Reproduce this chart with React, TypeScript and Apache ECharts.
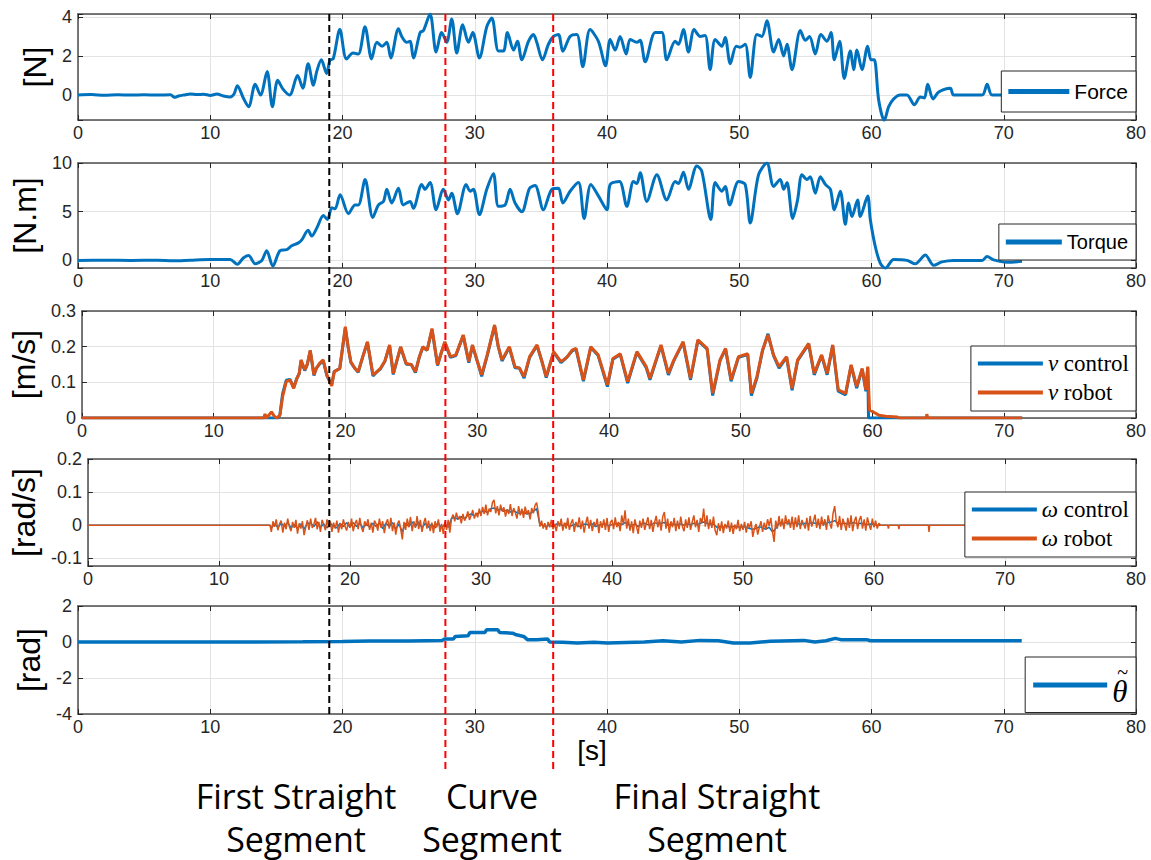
import React, { useEffect, useRef } from 'react';
import * as echarts from 'echarts';

// ---------------- DATA ----------------
const xTicks = [0, 10, 20, 30, 40, 50, 60, 70, 80];
const sectionMarks = [19.0, 27.78, 35.93]; // first = black, others = red

const forceTicks = [0, 2, 4];
const torqueTicks = [0, 5, 10];
const nuTicks = [0, 0.1, 0.2, 0.3];
const omegaTicks = [-0.1, 0, 0.1, 0.2];
const thetaTicks = [-4, -2, 0, 2];

const forceRange = [-1.28, 4.15];
const torqueRange = [-0.78, 10];
const nuRange = [0, 0.3];
const omegaRange = [-0.123, 0.2];
const thetaRange = [-4, 2];

const forceData = [
  [0, 0], [1, 0.02], [2, -0.01], [3, 0.01], [4, 0], [5, 0.01], [6, 0], [7, 0.01], [7.3, -0.12], [7.6, -0.05],
  [8, 0], [8.5, 0.05], [9, 0.02], [9.5, 0.04], [10, -0.02], [10.5, 0.05], [11, -0.05], [11.5, -0.1], [11.8, 0.05],
  [12.05, 0.48], [12.5, -0.15], [12.9, -0.6], [13.4, 0.55], [13.8, 0], [14.3, 1.2], [14.7, -0.6], [15.1, 0.75],
  [15.5, 0.3], [16.0, 0.0], [16.6, 1.0], [17.0, 0.35], [17.4, 1.6], [17.8, 0.5], [18.05, 1.2], [18.4, 1.8],
  [18.8, 1.1], [19.06, 1.8], [19.3, 1.85], [19.8, 3.35], [20.3, 1.85], [20.8, 2.15], [21.2, 2.1], [21.7, 3.5],
  [22.2, 1.85], [22.6, 2.7], [23.0, 2.5], [23.35, 2.7], [23.65, 1.9], [24.23, 3.4], [24.48, 3.0], [24.86, 2.7],
  [25.11, 2.75], [25.36, 1.9], [25.87, 3.2], [26.12, 3.3], [26.62, 4.15], [27.08, 2.2], [27.5, 3.2], [27.88, 2.7],
  [28.26, 3.9], [28.64, 2.15], [29.09, 3.6], [29.52, 2.7], [29.85, 3.2], [30.35, 1.9], [30.91, 3.5], [31.29, 3.95],
  [31.79, 2.25], [32.17, 2.25], [32.47, 3.2], [32.93, 2.3], [33.23, 2.75], [33.56, 1.8], [34.06, 2.75], [34.44, 3.1],
  [34.69, 2.7], [35.12, 1.8], [35.57, 2.6], [35.95, 3.0], [36.33, 3.1], [36.66, 2.24], [37.21, 3.0], [37.72, 3.1],
  [38.17, 1.45], [38.72, 3.35], [39.35, 2.75], [39.89, 1.5], [40.24, 2.85], [40.62, 2.3], [40.99, 3.0], [41.45, 2.1],
  [41.75, 2.85], [42.26, 2.7], [42.51, 2.8], [42.89, 1.7], [43.64, 3.2], [44.15, 3.2], [44.52, 1.8], [45.15, 2.75],
  [45.41, 2.6], [45.78, 3.35], [46.16, 2.2], [46.59, 3.35], [47.05, 3.0], [47.42, 3.05], [47.8, 1.3], [48.18, 2.85],
  [48.68, 2.5], [48.94, 2.95], [49.32, 1.6], [49.77, 2.5], [50.07, 2.45], [50.45, 2.6], [50.83, 0.9], [51.33, 3.1],
  [51.71, 3.0], [52.09, 3.8], [52.6, 2.2], [52.98, 2.85], [53.36, 2.0], [53.61, 2.6], [53.99, 1.3], [54.62, 3.3],
  [55.0, 2.8], [55.32, 3.0], [55.75, 2.1], [56.18, 3.1], [56.63, 2.75], [56.94, 3.2], [57.19, 1.8], [57.59, 2.75],
  [57.94, 0.85], [58.4, 2.25], [58.65, 1.3], [58.9, 2.3], [59.28, 1.3], [59.71, 2.5], [59.96, 1.8], [60.21, 1.8],
  [60.54, -0.25], [60.97, -1.3], [61.3, -0.6], [61.68, -0.2], [62.18, 0], [62.68, 0], [63.24, -0.5], [63.69, -0.1],
  [64.0, -0.15], [64.25, 0.55], [64.65, -0.2], [65.08, 0.15], [65.96, 0.35], [66.21, 0], [68.36, 0], [68.74, 0.55],
  [69.11, 0], [70, 0], [71.36, 0],
];

const torqueData = [
  [0, 0], [2, 0.02], [4, 0], [6, 0.01], [7.2, -0.04], [8.5, 0.02], [10, 0.08], [11.5, 0.08], [12.05, -0.4],
  [12.5, 0.25], [12.9, 0.5], [13.4, -0.35], [13.9, 0], [14.27, 1.0], [14.73, -0.6], [15.28, 1.0], [15.78, 1.1],
  [16.16, 1.5], [16.67, 1.8], [16.92, 2.1], [17.4, 3.1], [17.67, 2.5], [18.05, 3.3], [18.56, 4.6], [18.86, 4.2],
  [19.19, 5.4], [19.44, 5.3], [19.82, 6.75], [20.45, 4.8], [20.95, 5.7], [21.2, 5.7], [21.71, 8.3], [22.29, 4.4],
  [22.72, 5.7], [23.1, 6.06], [23.35, 7.3], [23.72, 5.9], [24.23, 7.4], [24.6, 5.7], [25.11, 6.06], [25.36, 5.35],
  [25.99, 7.8], [26.24, 7.3], [26.62, 8.0], [27.08, 5.2], [27.63, 7.3], [28.01, 6.2], [28.26, 6.9], [28.69, 4.8],
  [29.35, 7.8], [29.65, 7.1], [29.9, 7.3], [30.35, 4.7], [30.91, 7.3], [31.41, 8.9], [31.79, 5.55], [32.3, 5.7],
  [32.67, 7.3], [33.05, 5.9], [33.56, 5.0], [34.14, 7.4], [34.56, 7.7], [35.19, 5.2], [35.83, 7.3], [36.33, 7.4],
  [36.66, 5.9], [37.21, 7.1], [37.84, 8.0], [38.27, 4.3], [38.78, 7.8], [39.36, 6.6], [39.99, 5.2], [40.24, 7.8],
  [40.94, 8.1], [41.5, 5.55], [42.0, 8.1], [42.26, 7.9], [42.51, 9.0], [43.01, 6.06], [43.77, 8.8], [44.52, 6.2],
  [45.15, 8.1], [45.41, 7.9], [45.78, 9.05], [46.16, 7.3], [46.79, 9.7], [47.17, 9.15], [47.85, 4.2], [48.18, 8.0],
  [48.68, 7.1], [48.94, 7.6], [49.27, 5.7], [49.95, 8.1], [50.45, 7.8], [50.83, 3.85], [51.46, 8.8], [52.09, 10.0],
  [52.6, 7.6], [53.1, 8.3], [53.36, 7.3], [53.61, 8.0], [54.04, 4.3], [54.41, 6.2], [54.74, 8.8], [55.12, 8.3],
  [55.37, 8.6], [55.75, 6.9], [56.13, 8.6], [56.51, 7.8], [56.89, 7.3], [57.19, 5.2], [57.64, 7.1], [58.02, 3.7],
  [58.27, 5.9], [58.52, 4.5], [58.95, 6.2], [59.15, 4.5], [59.71, 6.6], [59.91, 4.2], [60.29, 1.4], [60.67, -0.3],
  [61.05, -0.8], [61.68, 0.1], [62.68, 0], [63.31, -0.35], [64.07, 0.55], [64.7, -0.5], [65.33, -0.15], [66.21, 0],
  [68.36, 0], [68.74, 0.4], [69.24, 0.05], [70.25, -0.2], [71.38, -0.1],
];

const nuRobot = [
  [0, 0], [13.8, 0], [13.9, 0.011], [14.0, 0], [14.39, 0.017], [14.6, 0.005], [14.81, 0], [15.03, 0.008],
  [15.23, 0.06], [15.51, 0.102], [15.79, 0.107], [16.07, 0.083], [16.3, 0.11], [16.49, 0.125], [16.63, 0.163],
  [16.91, 0.135], [17.1, 0.15], [17.33, 0.19], [17.61, 0.121], [17.8, 0.14], [18.03, 0.153], [18.31, 0.163],
  [18.59, 0.121], [18.95, 0.09], [19.15, 0.13], [19.57, 0.139], [19.99, 0.256], [20.2, 0.2], [20.41, 0.158],
  [20.7, 0.14], [20.97, 0.13], [21.3, 0.17], [21.67, 0.214], [22.09, 0.121], [22.4, 0.13], [22.65, 0.139],
  [23.0, 0.16], [23.35, 0.205], [23.63, 0.125], [23.9, 0.16], [24.19, 0.2], [24.61, 0.153], [25.0, 0.15],
  [25.31, 0.13], [25.6, 0.17], [25.87, 0.2], [26.2, 0.19], [26.57, 0.251], [26.99, 0.149], [27.25, 0.18],
  [27.54, 0.214], [27.97, 0.172], [28.38, 0.177], [28.94, 0.233], [29.36, 0.158], [29.64, 0.205], [30.0, 0.16],
  [30.34, 0.121], [30.76, 0.177], [31.32, 0.261], [31.6, 0.2], [31.88, 0.163], [32.44, 0.2], [32.86, 0.144],
  [33.2, 0.14], [33.56, 0.116], [33.98, 0.172], [34.54, 0.205], [34.9, 0.16], [35.24, 0.116], [35.8, 0.186],
  [36.36, 0.158], [36.8, 0.17], [37.2, 0.19], [37.5, 0.195], [38.06, 0.107], [38.62, 0.2], [39.18, 0.177],
  [39.88, 0.093], [40.3, 0.167], [40.86, 0.18], [41.42, 0.102], [42.12, 0.186], [42.83, 0.144], [43.11, 0.111],
  [43.95, 0.205], [44.51, 0.125], [44.93, 0.163], [45.63, 0.214], [46.19, 0.111], [46.75, 0.219], [47.45, 0.195],
  [47.87, 0.069], [48.43, 0.163], [48.85, 0.195], [49.27, 0.107], [49.83, 0.172], [50.53, 0.18], [50.81, 0.069],
  [51.23, 0.116], [51.65, 0.19], [52.07, 0.233], [52.49, 0.177], [52.91, 0.144], [53.48, 0.172], [53.9, 0.083],
  [54.32, 0.163], [55.16, 0.209], [55.58, 0.125], [56.14, 0.177], [56.56, 0.125], [56.98, 0.205], [57.4, 0.079],
  [57.96, 0.069], [58.38, 0.149], [58.8, 0.088], [59.22, 0.139], [59.5, 0.079], [59.64, 0.144], [59.78, 0.022],
  [60.06, 0.017], [60.48, 0.008], [61.0, 0.005], [61.88, 0.003], [62.0, 0], [64.1, 0], [64.12, 0.011], [64.2, 0],
  [71.36, 0],
];

const nuControl = [
  [0, 0], [14.9, 0], [15.03, 0.01], [15.23, 0.068], [15.51, 0.106], [15.79, 0.108], [16.07, 0.085], [16.3, 0.11],
  [16.49, 0.124], [16.63, 0.16], [16.91, 0.133], [17.1, 0.15], [17.33, 0.188], [17.61, 0.119], [17.8, 0.14],
  [18.03, 0.151], [18.31, 0.161], [18.59, 0.119], [18.95, 0.092], [19.15, 0.13], [19.57, 0.139], [19.99, 0.252],
  [20.2, 0.2], [20.41, 0.156], [20.7, 0.14], [20.97, 0.128], [21.3, 0.17], [21.67, 0.212], [22.09, 0.118],
  [22.4, 0.13], [22.65, 0.137], [23.0, 0.16], [23.35, 0.203], [23.63, 0.122], [23.9, 0.16], [24.19, 0.198],
  [24.61, 0.151], [25.0, 0.15], [25.31, 0.127], [25.6, 0.17], [25.87, 0.198], [26.2, 0.19], [26.57, 0.248],
  [26.99, 0.147], [27.25, 0.18], [27.54, 0.212], [27.97, 0.17], [28.38, 0.175], [28.94, 0.231], [29.36, 0.155],
  [29.64, 0.203], [30.0, 0.16], [30.34, 0.117], [30.76, 0.175], [31.32, 0.258], [31.6, 0.2], [31.88, 0.16],
  [32.44, 0.198], [32.86, 0.141], [33.2, 0.14], [33.56, 0.112], [33.98, 0.17], [34.54, 0.203], [34.9, 0.16],
  [35.24, 0.113], [35.8, 0.184], [36.36, 0.155], [36.8, 0.17], [37.2, 0.188], [37.5, 0.193], [38.06, 0.103],
  [38.62, 0.198], [39.18, 0.175], [39.88, 0.088], [40.3, 0.165], [40.86, 0.178], [41.42, 0.098], [42.12, 0.184],
  [42.83, 0.141], [43.11, 0.107], [43.95, 0.203], [44.51, 0.121], [44.93, 0.161], [45.63, 0.212], [46.19, 0.107],
  [46.75, 0.217], [47.45, 0.193], [47.87, 0.063], [48.43, 0.161], [48.85, 0.193], [49.27, 0.103], [49.83, 0.17],
  [50.53, 0.178], [50.81, 0.063], [51.23, 0.112], [51.65, 0.188], [52.07, 0.236], [52.49, 0.175], [52.91, 0.14],
  [53.48, 0.17], [53.9, 0.078], [54.32, 0.161], [55.16, 0.207], [55.58, 0.121], [56.14, 0.175], [56.56, 0.121],
  [56.98, 0.203], [57.4, 0.075], [57.96, 0.065], [58.38, 0.147], [58.8, 0.084], [59.22, 0.137], [59.5, 0.075],
  [59.64, 0.14], [59.7, 0], [71.36, 0],
];

// ω robot: sampled every 0.125 s from 14.0 s to 60.5 s
const omegaStart = 13.9;
const omegaEnd = 71.36;
const omegaT0 = 14.0;
const omegaRobotStep = 0.125;
const omegaRobotVals = [
  -0.02, 0.012, -0.005, 0.018, -0.015, 0.004, 0.014, -0.022,
  0.008, -0.012, 0.02, -0.004, -0.018, 0.01, -0.008, 0.016,
  -0.025, 0.006, -0.01, 0.012, -0.03, -0.006, 0.015, -0.014,
  0.02, -0.008, 0.004, 0.022, -0.012, 0.01, -0.02, 0.016,
  0.002, -0.015, 0.018, -0.006, 0.012, -0.02, 0.008, -0.01,
  0.014, -0.022, 0.006, -0.012, 0.018, -0.004, -0.016, 0.01,
  -0.008, 0.02, -0.018, 0.004, 0.016, -0.012, 0.022, -0.006,
  -0.02, 0.012, -0.002, 0.018, -0.014, 0.008, -0.022, 0.014,
  0.004, -0.016, 0.02, -0.008, 0.012, -0.024, 0.006, 0.018,
  -0.01, 0.022, -0.018, 0.008, -0.028, 0.004, 0.014, -0.012,
  -0.043, 0.01, -0.014, 0.02, -0.006, 0.025, -0.018, 0.012,
  -0.008, 0.028, -0.012, 0.016, -0.02, 0.006, 0.022, -0.01,
  0.014, -0.018, 0.008, -0.024, 0.012, -0.006, 0.018, -0.02,
  0.004, -0.026, 0.01, -0.014, 0.016, -0.022, 0.02, 0.032,
  0.012, 0.038, 0.018, 0.028, 0.006, 0.034, 0.014, 0.024,
  0.042, 0.016, 0.03, 0.046, 0.02, 0.038, 0.024, 0.05,
  0.028, 0.055, 0.034, 0.062, 0.03, 0.05, 0.04, 0.068,
  0.077, 0.036, 0.058, 0.03, 0.062, 0.042, 0.054, 0.026,
  0.048, 0.034, 0.064, 0.028, 0.052, 0.038, 0.02, 0.058,
  0.03, 0.05, 0.022, 0.056, 0.034, 0.046, 0.018, 0.052,
  0.036, 0.06, 0.068, 0.04, -0.004, 0.014, -0.01, 0.006,
  -0.014, 0.01, -0.006, 0.016, -0.012, 0.004, -0.018, 0.012,
  -0.004, 0.02, -0.016, 0.008, -0.01, 0.022, -0.014, 0.006,
  0.018, -0.02, 0.01, -0.006, 0.024, -0.012, 0.014, -0.022,
  0.006, 0.026, -0.01, 0.016, -0.018, 0.01, -0.004, 0.02,
  -0.024, 0.012, -0.008, 0.018, -0.014, 0.022, -0.02, 0.008,
  0.016, -0.012, 0.024, -0.006, 0.01, -0.018, 0.03, 0.002,
  0.045, -0.01, 0.02, -0.016, 0.012, -0.024, 0.018, -0.004,
  -0.026, 0.014, -0.008, 0.02, -0.014, 0.006, 0.024, -0.012,
  0.016, -0.02, 0.008, 0.028, -0.006, 0.018, -0.016, 0.026,
  0.04, -0.01, 0.02, -0.022, 0.012, -0.006, 0.022, -0.018,
  0.014, -0.012, 0.026, -0.004, -0.018, 0.018, -0.008, 0.024,
  -0.014, 0.01, 0.03, -0.006, 0.016, -0.02, 0.022, 0.008,
  0.05, -0.004, 0.03, -0.012, 0.018, -0.008, 0.026, -0.016,
  -0.03, 0.006, -0.018, 0.012, -0.024, 0.004, -0.01, 0.014,
  -0.02, 0.008, -0.026, 0.002, -0.012, 0.016, -0.018, 0.004,
  -0.014, 0.01, -0.022, 0.006, -0.008, 0.012, -0.035, -0.01,
  0.004, -0.028, -0.006, 0.012, -0.02, 0.008, -0.014, 0.018,
  -0.002, 0.022, -0.018, -0.05, 0.014, -0.01, 0.028, -0.004,
  0.02, -0.012, 0.03, 0.002, 0.018, -0.008, 0.026, -0.014,
  0.024, -0.006, 0.03, -0.012, 0.016, 0.004, -0.01, 0.022,
  -0.016, 0.028, -0.004, 0.012, 0.032, -0.008, 0.02, -0.012,
  0.026, -0.002, 0.018, -0.014, 0.03, 0.006, -0.01, 0.036,
  0.058, 0.012, -0.006, 0.028, -0.014, 0.02, 0.004, -0.016,
  0.022, -0.008, 0.03, -0.018, 0.012, 0.026, -0.012, 0.016,
  0.028, -0.01, 0.018, -0.016, 0.024, 0.002, -0.014, 0.02,
  -0.006, 0.014, -0.01, 0.006, 0.0,
];
const omegaRobotTail = [
  [60.75, 0], [61.05, 0], [61.1, -0.01], [61.15, 0], [61.85, 0], [61.9, -0.012], [61.95, 0],
  [64.15, 0], [64.2, -0.02], [64.25, 0], [71.36, 0],
];

// ω control: sampled every 0.25 s from 14.0 s to 60.5 s
const omegaControlStep = 0.25;
const omegaControlVals = [
  -0.008, 0.004, -0.006, 0.006, -0.004, 0.008, -0.008, 0.002, -0.01, 0.004, -0.012, 0.006,
  0.006, -0.004, 0.01, -0.006, 0.004, -0.008, 0.006, -0.004, -0.008, 0.006, -0.004, 0.008,
  -0.006, 0.008, -0.004, 0.006, -0.008, 0.004, -0.006, 0.006, -0.004, 0.008, -0.01, 0.006,
  -0.004, 0.008, -0.012, 0.004, -0.02, 0.006, -0.004, 0.01, -0.004, 0.01, -0.008, 0.006,
  -0.006, 0.004, -0.008, 0.006, -0.008, 0.004, -0.006, 0.02, 0.024, 0.018, 0.026, 0.02,
  0.03, 0.034, 0.028, 0.036, 0.04, 0.044, 0.038, 0.05, 0.052, 0.046, 0.048, 0.042,
  0.046, 0.04, 0.044, 0.038, 0.036, 0.04, 0.034, 0.036, 0.042, 0.05, 0.002, 0.0,
  -0.004, 0.002, -0.006, 0.004, 0.004, -0.002, 0.006, -0.004, 0.0, 0.004, -0.004, 0.002,
  0.004, 0.0, 0.004, -0.004, 0.0, 0.002, 0.004, -0.002, 0.002, 0.004, 0.006, 0.002,
  0.008, 0.002, -0.002, 0.004, -0.004, 0.004, 0.006, 0.002, 0.0, 0.008, 0.004, 0.006,
  0.008, 0.0, 0.004, 0.002, 0.002, 0.004, 0.0, 0.004, 0.002, 0.006, 0.002, 0.006,
  0.01, 0.006, 0.002, 0.004, -0.006, -0.004, -0.006, -0.002, -0.006, -0.004, -0.004, -0.006,
  -0.004, -0.006, -0.01, -0.012, -0.01, -0.004, -0.008, -0.012, -0.006, -0.02, -0.01, 0.006,
  0.004, 0.008, 0.004, 0.006, 0.006, 0.004, 0.004, 0.006, 0.004, 0.008, 0.006, 0.004,
  0.006, 0.004, 0.008, 0.01, 0.014, 0.006, 0.004, 0.006, 0.004, 0.006, 0.008, 0.004,
  0.006, 0.004, 0.002, 0.004, 0.002, 0.0, 0.0,
];

const thetaData = [
  [0, 0], [10, 0], [17, 0.01], [20, 0.03], [22, 0.05], [25, 0.05], [27.55, 0.09], [27.69, 0.16], [28.38, 0.16],
  [28.52, 0.31], [29.5, 0.35], [29.64, 0.53], [30.76, 0.53], [30.9, 0.68], [31.74, 0.68], [31.88, 0.53], [32.86, 0.49],
  [33.14, 0.4], [33.7, 0.31], [33.98, 0.13], [34.68, 0.13], [35.52, 0.16], [35.66, 0], [36.64, -0.02], [37.76, -0.06],
  [39, -0.02], [40.02, -0.06], [42.83, 0], [44.23, 0.07], [45.63, 0], [47.03, 0.09], [48.43, 0.07], [49.55, -0.06],
  [50.81, -0.06], [52.35, 0.04], [54.88, 0.09], [55.72, 0], [56.56, 0.07], [57.26, 0.2], [57.68, 0.13], [59.64, 0.13],
  [59.92, 0.07], [71.36, 0.07],
];

const yNames = ['[N]', '[N.m]', '[m/s]', '[rad/s]', '[rad]'];
const segmentLabels = ['First Straight\nSegment', 'Curve\nSegment', 'Final Straight\nSegment'];

// ---------------- STYLE ----------------
const BLUE = '#0072BD';
const ORANGE = '#D95319';
const AXIS_COLOR = '#4d4d4d';
const TICK_COLOR = '#262626';
const GRID_COLOR = '#e3e3e3';
const SANS = 'Arial, "Liberation Sans", sans-serif';
const SERIF = '"Liberation Serif", "DejaVu Serif", serif';

const grids = [
  { top: 14, height: 106 },
  { top: 163, height: 105 },
  { top: 311, height: 107 },
  { top: 459, height: 107 },
  { top: 606, height: 108 },
];
const yRanges = [forceRange, torqueRange, nuRange, omegaRange, thetaRange];
const yTickSets = [forceTicks, torqueTicks, nuTicks, omegaTicks, thetaTicks];
const ySteps = [2, 5, 0.1, 0.1, 2];
const ySplits = [3, 2, 3, 3, 3];
const yNameGaps = [16, 28, 27, 28, 18];

function fmtTick(v: number) {
  return String(parseFloat(v.toFixed(3)));
}

function buildOption() {
  const grid = grids.map((g) => ({ left: 78, right: 15, top: g.top, height: g.height, containLabel: false }));

  const xAxis: any[] = [];
  for (let i = 0; i < 5; i++) {
    xAxis.push({
      type: 'value', gridIndex: i, min: xTicks[0], max: xTicks[xTicks.length - 1], interval: 10, position: 'bottom',
      axisLine: { show: true, onZero: false, lineStyle: { color: AXIS_COLOR, width: 1.5 } },
      axisTick: { show: true, inside: true, length: 5, lineStyle: { color: TICK_COLOR, width: 1 } },
      axisLabel: { show: true, margin: 4, color: TICK_COLOR, fontSize: 18, fontFamily: SANS },
      splitLine: { show: true, lineStyle: { color: GRID_COLOR, width: 1 } },
      name: i === 4 ? '[s]' : '', nameLocation: 'middle', nameGap: 21,
      nameTextStyle: { fontSize: 28, fontFamily: SANS, color: '#000', padding: [0, 30, 0, 0] },
    });
  }
  for (let i = 0; i < 5; i++) {
    xAxis.push({
      type: 'value', gridIndex: i, min: 0, max: 80, interval: 10, position: 'top',
      axisLine: { show: true, onZero: false, lineStyle: { color: AXIS_COLOR, width: 1.5 } },
      axisTick: { show: true, inside: true, length: 5, lineStyle: { color: TICK_COLOR, width: 1 } },
      axisLabel: { show: false }, splitLine: { show: false },
    });
  }

  const yAxis: any[] = [];
  for (let i = 0; i < 5; i++) {
    const ticks = yTickSets[i];
    yAxis.push({
      type: 'value', gridIndex: i, min: yRanges[i][0], max: yRanges[i][1], position: 'left',
      splitNumber: ySplits[i], minInterval: ySteps[i], maxInterval: ySteps[i],
      axisLine: { show: true, onZero: false, lineStyle: { color: AXIS_COLOR, width: 1.5 } },
      axisTick: { show: true, inside: true, length: 5, lineStyle: { color: TICK_COLOR, width: 1 } },
      axisLabel: {
        show: true, margin: 6, color: TICK_COLOR, fontSize: 18, fontFamily: SANS,
        formatter: (v: number) => (ticks.some((t) => Math.abs(t - v) < 1e-9) ? fmtTick(v) : ''),
      },
      splitLine: { show: true, lineStyle: { color: GRID_COLOR, width: 1 } },
      name: yNames[i], nameLocation: 'middle', nameRotate: 90, nameGap: yNameGaps[i],
      nameTextStyle: { fontSize: 32, fontFamily: SANS, color: '#000' },
    });
  }
  for (let i = 0; i < 5; i++) {
    yAxis.push({
      type: 'value', gridIndex: i, min: yRanges[i][0], max: yRanges[i][1], position: 'right',
      splitNumber: ySplits[i], minInterval: ySteps[i], maxInterval: ySteps[i],
      axisLine: { show: true, onZero: false, lineStyle: { color: AXIS_COLOR, width: 1.5 } },
      axisTick: { show: true, inside: true, length: 5, lineStyle: { color: TICK_COLOR, width: 1 } },
      axisLabel: { show: false }, splitLine: { show: false },
    });
  }

  const omegaRobot: number[][] = [[0, 0], [omegaStart, 0]];
  omegaRobotVals.forEach((v, i) => omegaRobot.push([omegaT0 + i * omegaRobotStep, v]));
  omegaRobotTail.forEach((p) => omegaRobot.push(p));
  const omegaControl: number[][] = [[0, 0], [omegaStart, 0]];
  omegaControlVals.forEach((v, i) => omegaControl.push([omegaT0 + i * omegaControlStep, v]));
  omegaControl.push([omegaEnd, 0]);

  const line = (name: string, data: number[][], idx: number, color: string, width: number, smooth: any) => ({
    name, type: 'line', data, xAxisIndex: idx, yAxisIndex: idx, showSymbol: false, symbol: 'none',
    smooth, lineStyle: { color, width }, itemStyle: { color }, z: 3,
  });

  const series = [
    line('Force', forceData, 0, BLUE, 3, 0.3),
    line('Torque', torqueData, 1, BLUE, 3, 0.3),
    line('ν control', nuControl, 2, BLUE, 3, false),
    line('ν robot', nuRobot, 2, ORANGE, 3, false),
    line('ω control', omegaControl, 3, BLUE, 1.5, false),
    line('ω robot', omegaRobot, 3, ORANGE, 1.5, false),
    line('θ̃', thetaData, 4, BLUE, 3.5, false),
  ];

  const baseLegend = {
    right: 15, backgroundColor: '#fff', borderColor: '#262626', borderWidth: 1, borderRadius: 0,
    selectedMode: false, icon: 'rect', orient: 'vertical',
  };
  const greekRich = {
    g: { fontFamily: SERIF, fontStyle: 'italic', fontSize: 23, color: '#000' },
    t: { fontFamily: SERIF, fontSize: 23, color: '#000' },
  };
  const greekFmt = (name: string) => {
    const parts = name.split(' ');
    return `{g|${parts[0]}}{t| ${parts.slice(1).join(' ')}}`;
  };
  const thetaRich = {
    a: { fontFamily: SERIF, fontSize: 20, lineHeight: 12, color: '#000', padding: [0, 0, 0, 5] },
    b: { fontFamily: SERIF, fontStyle: 'italic', fontSize: 31, lineHeight: 26, color: '#000' },
  };
  const legend = [
    { ...baseLegend, data: ['Force'], top: 71, padding: [10, 8, 10, 7], itemWidth: 61, itemHeight: 5,
      textStyle: { fontSize: 21, fontFamily: SANS, color: '#000' } },
    { ...baseLegend, data: ['Torque'], top: 224, padding: [8, 8, 8, 7], itemWidth: 56, itemHeight: 5,
      textStyle: { fontSize: 20, fontFamily: SANS, color: '#000' } },
    { ...baseLegend, data: ['ν control', 'ν robot'], top: 346, padding: [6, 7, 7, 7], itemGap: 6, itemWidth: 65, itemHeight: 4,
      formatter: greekFmt, textStyle: { fontSize: 23, fontFamily: SERIF, color: '#000', rich: greekRich } },
    { ...baseLegend, data: ['ω control', 'ω robot'], top: 492, padding: [6, 7, 7, 7], itemGap: 6, itemWidth: 65, itemHeight: 4,
      formatter: greekFmt, textStyle: { fontSize: 23, fontFamily: SERIF, color: '#000', rich: greekRich } },
    { ...baseLegend, data: ['θ̃'], top: 657, padding: [5, 8, 6, 8], itemWidth: 74, itemHeight: 5,
      formatter: () => '{a|~}\n{b|θ}',
      textStyle: { fontSize: 31, fontFamily: SERIF, color: '#000', rich: thetaRich } },
  ];

  return {
    animation: false,
    backgroundColor: '#fff',
    grid, xAxis, yAxis, series, legend,
  };
}

export default function App() {
  const ref = useRef<HTMLDivElement>(null);
  useEffect(() => {
    const chart = echarts.init(ref.current as HTMLDivElement, null, { renderer: 'svg' });
    chart.setOption(buildOption() as any);

    const topY = chart.convertToPixel({ yAxisIndex: 0 }, forceRange[1]) as number;
    const bottomY = chart.convertToPixel({ yAxisIndex: 4 }, thetaRange[0]) as number;
    const elements: any[] = [];
    sectionMarks.forEach((t, i) => {
      const x = chart.convertToPixel({ xAxisIndex: 0 }, t) as number;
      elements.push({
        type: 'line', z: 100, silent: true,
        shape: { x1: x, y1: topY, x2: x, y2: i === 0 ? bottomY : 770 },
        style: { stroke: i === 0 ? '#000' : '#ff0000', lineWidth: 2, lineDash: [7, 4] },
      });
    });
    const labelX = [296, 492, 717];
    segmentLabels.forEach((s, i) => {
      elements.push({
        type: 'text', z: 100, silent: true, x: labelX[i], y: 817,
        style: {
          text: s, fill: '#000', font: '34px "Open Sans", "Noto Sans", sans-serif',
          textAlign: 'center', textVerticalAlign: 'middle', lineHeight: 43,
        },
      });
    });
    chart.setOption({ graphic: { elements } } as any);

    return () => chart.dispose();
  }, []);
  return (
    <div
      ref={ref}
      style={{ position: 'fixed', left: 0, top: 0, width: 1151, height: 860, background: '#fff' }}
    />
  );
}
